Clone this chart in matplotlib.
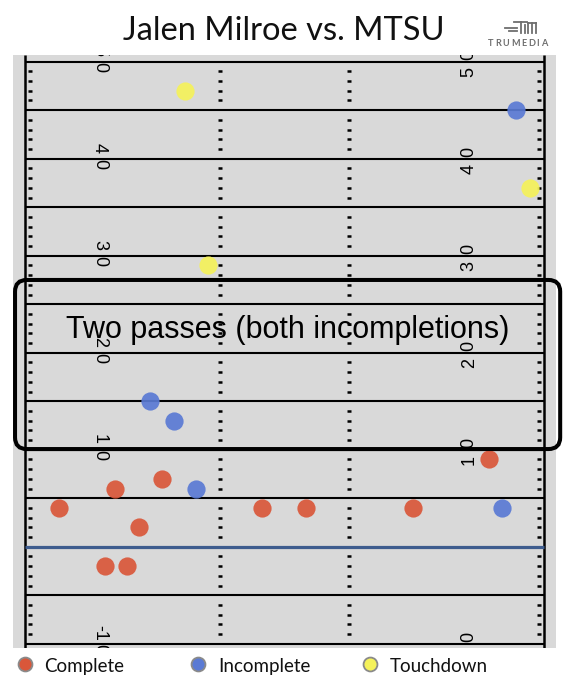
import matplotlib
matplotlib.use('Agg')
import matplotlib.pyplot as plt
from matplotlib.patches import FancyBboxPatch
from matplotlib.lines import Line2D

# ---------------- data ----------------
title = "Jalen Milroe vs. MTSU"
note = "Two passes (both incompletions)"
categories = ["Complete", "Incomplete", "Touchdown"]
colors = ["#d9573a", "#5a7ad4", "#f5f25a"]

complete_x = [47.7, 3.5, 9.3, 14.1, 11.7, 8.2, 10.5, 24.4, 28.9, 39.9]
complete_y = [9, 4, 6, 7, 2, -2, -2, 4, 4, 4]
incomplete_x = [50.5, 12.9, 15.3, 17.6, 49.1]
incomplete_y = [45, 15, 13, 6, 4]
touchdown_x = [16.5, 51.9, 18.8]
touchdown_y = [47, 37, 29]

yard_labels = [50, 40, 30, 20, 10, -10]

# ---------------- figure ----------------
W, H = 570, 682
fig = plt.figure(figsize=(W / 100, H / 100), dpi=100)
fig.patch.set_facecolor('white')

FIELD_W = 160 / 3
ax = fig.add_axes([12.7 / W, (H - 648.3) / H, 543.3 / W, 593.3 / H])
YLO, YHI = -10.47, 50.69
ax.set_xlim(-1.27, 54.61)
ax.set_ylim(YLO, YHI)
ax.set_facecolor('#d9d9d9')
ax.set_xticks([])
ax.set_yticks([])
for s in ax.spines.values():
    s.set_visible(False)

# yard lines every 5 yards
ax.hlines([y for y in range(-10, 51, 5) if y != 0], 0, FIELD_W,
          color='black', lw=1.5, zorder=2)
# line of scrimmage
ax.hlines(0, 0, FIELD_W, color='#3e5c8e', lw=2.3, zorder=2.5)
# sidelines
ax.vlines([0, FIELD_W], YLO, YHI, color='black', lw=1.8, zorder=2)
# yard ticks (sidelines + hashes)
tick_ys = [y for y in range(-10, 51) if y % 5 != 0]
for x0 in [0.3, 19.8, 33.13, 52.63]:
    ax.hlines(tick_ys, x0, x0 + 0.42, color='black', lw=1.8, zorder=2,
              capstyle='butt')

# yard numbers
for v in yard_labels:
    s = str(v)
    lead, last = s[:-1], s[-1]
    kw = dict(family='Liberation Sans', fontsize=13, ha='center', va='center',
              clip_on=True, zorder=2.6)
    ax.text(7.65, v + 1.15, lead, rotation=-90, **kw)
    ax.text(7.65, v - 0.6, last, rotation=-90, **kw)
    ax.text(FIELD_W - 7.65, v - 1.05, lead, rotation=90, **kw)
    ax.text(FIELD_W - 7.65, v + 0.65, last, rotation=90, **kw)

# passes
series = [(complete_x, complete_y), (incomplete_x, incomplete_y),
          (touchdown_x, touchdown_y)]
for (xs, ys), c in zip(series, colors):
    ax.scatter(xs, ys, s=172, color=c, alpha=0.92, linewidths=0, zorder=3)

# annotation box
box = FancyBboxPatch((-1.03, 10.07), 56.07, 17.43,
                     boxstyle='round,pad=0,rounding_size=1.2',
                     fill=False, ec='black', lw=2.9, clip_on=False, zorder=5)
ax.add_patch(box)
ax.text(27.04, 21.48, note, family='Liberation Sans', fontsize=22,
        ha='center', va='baseline', zorder=6)

# title
fig.text(284 / W, (H - 40) / H, title, family='Lato', fontsize=23.5,
         ha='center', va='baseline', color='#111111')

# logo: letter-spaced wordmark
logo_c = '#6e6e6e'
letters = "TRUMEDIA"
renderer = fig.canvas.get_renderer()
objs = [fig.text(0, 0, ch, family='Lato', fontweight='bold', fontsize=6.6,
                 ha='left', va='baseline', color=logo_c) for ch in letters]
widths = [o.get_window_extent(renderer).width for o in objs]
x0, x1 = 488.3, 547.3
gap = ((x1 - x0) - sum(widths)) / (len(letters) - 1)
cx = x0
for o, w in zip(objs, widths):
    o.set_position((cx / W, (H - 45.7) / H))
    cx += w + gap
icon_lines = [
    ((505, 517), (27.5, 27.5)),
    ((509, 517), (31.0, 31.0)),
    ((514, 527), (21.8, 21.8)),
    ((520.5, 520.5), (21.8, 32.5)),
    ((524.5, 524.5), (24.5, 32.5)),
    ((528, 536), (22.5, 22.5)),
    ((528, 528), (22.5, 32.5)),
    ((532, 532), (22.5, 32.5)),
    ((536, 536), (22.5, 32.5)),
]
for xs, ys in icon_lines:
    fig.add_artist(Line2D([x / W for x in xs], [(H - y) / H for y in ys],
                          transform=fig.transFigure, color=logo_c, lw=1.3))

# legend
marker_x = [24.5, 197.8, 370.2]
text_x = [44.3, 218.3, 390.0]
for lab, c, mx, tx in zip(categories, colors, marker_x, text_x):
    fig.add_artist(Line2D([mx / W], [(H - 664) / H], transform=fig.transFigure,
                          marker='o', ms=10, mfc=c, mec='#8a8a8a', mew=1.3,
                          ls='none'))
    fig.text(tx / W, (H - 671.7) / H, lab, family='Lato', fontsize=13.5,
             va='baseline', ha='left', color='#111111')

fig.savefig('out.png', dpi=100, facecolor='white')
